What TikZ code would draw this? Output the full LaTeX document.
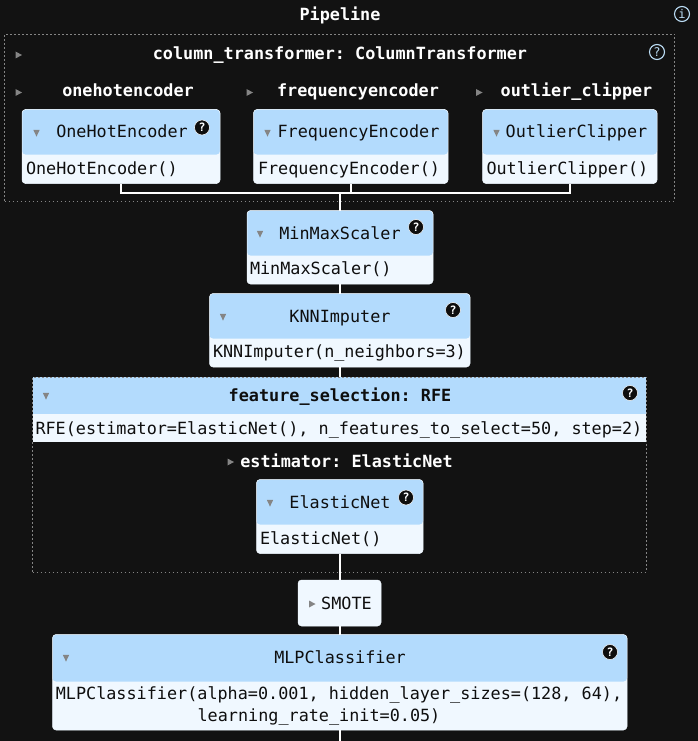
\documentclass[tikz,border=0pt]{standalone}
\usepackage{fontspec}
\setmainfont{DejaVu Sans Mono}
\frenchspacing
\definecolor{bg}{HTML}{121212}
\definecolor{hdr}{HTML}{B3DBFD}
\definecolor{pale}{HTML}{F0F8FF}
\definecolor{ink}{HTML}{0E0E0E}
\definecolor{tri}{HTML}{858585}
\definecolor{frame}{HTML}{858585}
\definecolor{ring}{HTML}{BBDDF5}
\tikzset{
  txt/.style={inner sep=0pt,outer sep=0pt,anchor=base,font=\frenchspacing\fontsize{16.8}{20}\selectfont},
  ltxt/.style={txt,anchor=base west,text=ink},
  ctxt/.style={txt,text=ink},
  head/.style={txt,text=white,font=\frenchspacing\fontsize{16.8}{20}\selectfont\bfseries},
  est/.style={draw=pale,line width=0.5pt,fill=pale,rounded corners=3.5pt,inner sep=0pt,outer sep=0pt,anchor=north west},
  squareest/.style={est,draw=none,sharp corners},
  group/.style={draw=frame,line width=0.8pt,dash pattern=on 1.6pt off 2.4pt,inner sep=0pt,outer sep=0pt,anchor=north west},
  link/.style={draw=white,line width=2pt},
  help/.style={circle,draw=white,line width=0.5pt,fill=ink,text=white,inner sep=0pt,minimum size=15pt,font=\fontsize{11.5}{12}\selectfont\bfseries},
  helpd/.style={circle,draw=ring,line width=1.1pt,fill=bg,text=ring,inner sep=0pt,minimum size=15pt,font=\fontsize{12}{12}\selectfont},
}
\newcommand{\estbox}[7][est]{% style name x1 y1 x2 y2 header height
  \pgfmathsetmacro{\boxw}{#5-#3}\pgfmathsetmacro{\boxh}{#6-#4}
  \node[#1,minimum width=\boxw pt,minimum height=\boxh pt,path picture={
    \fill[hdr] (path picture bounding box.north west) rectangle ([yshift=-#7 pt]path picture bounding box.north east);}] (#2) at (#3,#4) {};}
\newcommand{\trir}[2]{\fill[tri] (#1-3,#2-3.5) -- (#1+3.5,#2) -- (#1-3,#2+3.5) -- cycle;}
\newcommand{\trid}[2]{\fill[tri] (#1-3.2,#2-3.2) -- (#1+3.2,#2-3.2) -- (#1,#2+3.6) -- cycle;}
\begin{document}
\begin{tikzpicture}[x=1pt,y=-1pt]
\fill[bg] (0,0) rectangle (698,741);
\useasboundingbox (0,0) rectangle (698,741);
% junction and end
\coordinate (j) at (340,192.5);
\coordinate (endp) at (340,741);
% boxes
\estbox{ohe}{22}{109.5}{220}{183.5}{45}
\estbox{freq}{253.5}{109.5}{448}{183.5}{45}
\estbox{clip}{482.5}{109.5}{657}{183.5}{45}
\estbox{mms}{247}{210.5}{433}{284}{45}
\estbox{knn}{209.5}{293.5}{470}{367}{45}
\estbox[squareest]{rfe}{33}{377}{646}{442}{37}
\estbox{en}{256.5}{479.5}{423}{553.5}{45}
\node[est,minimum width=83pt,minimum height=46pt] (smote) at (298,580) {};
\estbox{mlp}{52.5}{634.5}{627}{730}{47}
% group frames
\node[group,minimum width=670pt,minimum height=167pt] (ct) at (4.5,34) {};
\node[group,minimum width=614pt,minimum height=195pt] (rfegrp) at (32.5,377) {};
% connectors
\draw[link] (ohe.south) |- (j);
\draw[link] (clip.south) |- (j);
\draw[link] (freq.south) -- (freq.south |- j);
\draw[link] (j) -- (mms.north -| j);
\draw[link] (mms.south -| j) -- (knn.north -| j);
\draw[link] (knn.south -| j) -- (rfegrp.north -| j);
\draw[link] (en.south -| j) -- (smote.north -| j);
\draw[link] (smote.south -| j) -- (mlp.north -| j);
\draw[link] (mlp.south -| j) -- (endp);
% top titles
\node[head] (tpipe) at (340,21) {Pipeline};
\node[head] (tct) at (340,60) {column\_transformer: ColumnTransformer};
\node[head] (tohe) at (128,97) {onehotencoder};
\node[head] (tfreq) at (358,97) {frequencyencoder};
\node[head] (tclip) at (576.5,97) {outlier\_clipper};
% box headers
\node[ctxt] (hohe) at (122,138) {OneHotEncoder};
\node[ctxt] (hfreq) at (358.5,138) {FrequencyEncoder};
\node[ctxt] (hclip) at (576.5,138) {OutlierClipper};
\node[ltxt] (bohe) at (26,174) {OneHotEncoder()};
\node[ltxt] (bfreq) at (258,174) {FrequencyEncoder()};
\node[ltxt] (bclip) at (486.5,174) {OutlierClipper()};
\node[ctxt] (hmms) at (340,239) {MinMaxScaler};
\node[ltxt] (bmms) at (250,274) {MinMaxScaler()};
\node[ctxt] (hknn) at (340,322) {KNNImputer};
\node[ltxt] (bknn) at (213,357) {KNNImputer(n\_neighbors=3)};
\node[txt,text=ink,font=\frenchspacing\fontsize{16.8}{20}\selectfont\bfseries] (hrfe) at (340,401) {feature\_selection: RFE};
\node[ltxt] (brfe) at (35.5,434) {RFE(estimator=ElasticNet(), n\_features\_to\_select=50, step=2)};
\node[head] (test) at (346.5,467) {estimator: ElasticNet};
\node[ctxt] (hen) at (340,508) {ElasticNet};
\node[ltxt] (ben) at (260,544) {ElasticNet()};
\node[ctxt] (hsmote) at (346.5,609) {SMOTE};
\node[ctxt] (hmlp) at (340,663) {MLPClassifier};
\node[ctxt] (bmlpa) at (339,699) {MLPClassifier(alpha=0.001, hidden\_layer\_sizes=(128, 64),};
\node[ctxt] (bmlpb) at (319,721) {learning\_rate\_init=0.05)};
% triangles
\trir{18.5}{55}\trir{18.5}{92.5}\trir{249.5}{92.5}\trir{479}{92.5}
\trid{36.5}{133}\trid{267.5}{133}\trid{496.5}{133}
\trid{260}{234}\trid{223}{317}\trid{46}{396}\trid{270}{503}
\trir{230.5}{462}\trir{312}{604}\trid{66}{658}
% help icons
\node[help] (qohe) at (202,127.5) {?};
\node[help] (qmms) at (416,227) {?};
\node[help] (qknn) at (453,310) {?};
\node[help] (qrfe) at (630,393) {?};
\node[help] (qen) at (406,497.5) {?};
\node[help] (qmlp) at (610,652) {?};
\node[helpd] (qct) at (657,52) {?};
\node[helpd] (qinfo) at (682,14) {i};
\end{tikzpicture}
\end{document}
